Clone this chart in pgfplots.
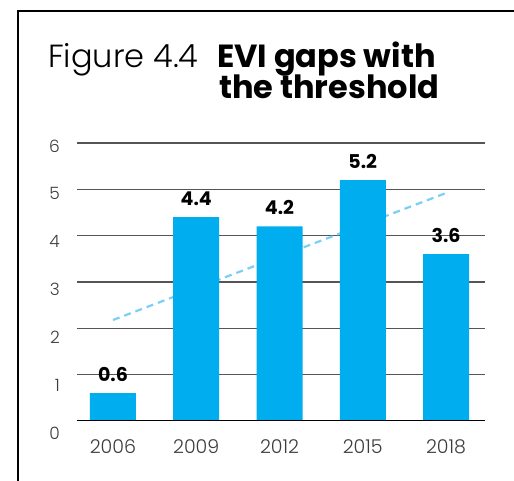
\documentclass[border=0pt]{standalone}
\usepackage{pgfplots}
\pgfplotsset{compat=1.18}
\usepackage{fontspec}
\setmainfont{Poppins}
\newfontfamily\lightfont{Poppins}[UprightFont=* Light]
\definecolor{barblue}{HTML}{00ADEE}
\definecolor{dashblue}{HTML}{7ACFF3}
\definecolor{gridgray}{HTML}{555555}
\definecolor{ticktext}{HTML}{3C3C3C}
\begin{document}
\begin{tikzpicture}[x=1bp,y=1bp]
\path[use as bounding box] (0,0) rectangle (514,481);
% frame
\draw[line width=1.3bp] (18,0) -- (18,470) -- (514,470);
% title
\node[anchor=base west, inner sep=0] at (48,413) {\lightfont\fontsize{32bp}{32bp}\selectfont Figure 4.4};
\node[anchor=base west, inner sep=0] at (217,413) {\bfseries\fontsize{32bp}{32bp}\selectfont EVI gaps with};
\node[anchor=base west, inner sep=0] at (219,382.5) {\bfseries\fontsize{32bp}{32bp}\selectfont the threshold};
% main axis
\begin{axis}[
  at={(77bp,60bp)}, anchor=south west, scale only axis,
  width=408bp, height=278bp,
  xmin=-0.432, xmax=4.468, ymin=0, ymax=6,
  axis line style={draw=none},
  ytick={1,2,3,4,5,6}, yticklabels={},
  ymajorgrids, grid style={gridgray, line width=1.2bp},
  major tick length=0pt,
  xtick={0,1,2,3,4},
  xticklabels={2006,2009,2012,2015,2018},
  xticklabel style={anchor=base, yshift=-33bp, inner sep=0pt, text=ticktext, font=\lightfont\fontsize{19bp}{19bp}\selectfont},
  /pgf/number format/assume math mode=true,
]
\addplot[color=dashblue, line width=2.2bp, dash pattern=on 7bp off 5bp] coordinates {(0,2.18) (4,4.92)};
\addplot[ybar, bar width=46bp, bar shift=0pt, fill=barblue, draw=none,
  nodes near coords,
  nodes near coords style={anchor=base, yshift=12bp, inner sep=0pt, text=black, font=\bfseries\fontsize{19bp}{19bp}\selectfont, /pgf/number format/fixed, /pgf/number format/precision=1, /pgf/number format/fixed zerofill}]
  coordinates {(0,0.6) (1,4.4) (2,4.2) (3,5.2) (4,3.6)};
\draw[black, line width=2.2bp] (axis cs:-0.432,0) -- (axis cs:4.468,0);
\end{axis}
% y tick labels axis
\begin{axis}[
  at={(77bp,48bp)}, anchor=south west, scale only axis,
  width=408bp, height=287bp,
  xmin=0, xmax=1, ymin=0, ymax=6,
  hide x axis,
  axis line style={draw=none},
  ytick={0,1,2,3,4,5,6},
  major tick length=0pt,
  yticklabel style={anchor=east, xshift=-17bp, inner sep=0pt, text=ticktext, font=\lightfont\fontsize{17bp}{17bp}\selectfont},
  /pgf/number format/assume math mode=true,
]
\addplot[draw=none] coordinates {(0,0) (1,6)};
\end{axis}
\end{tikzpicture}
\end{document}
